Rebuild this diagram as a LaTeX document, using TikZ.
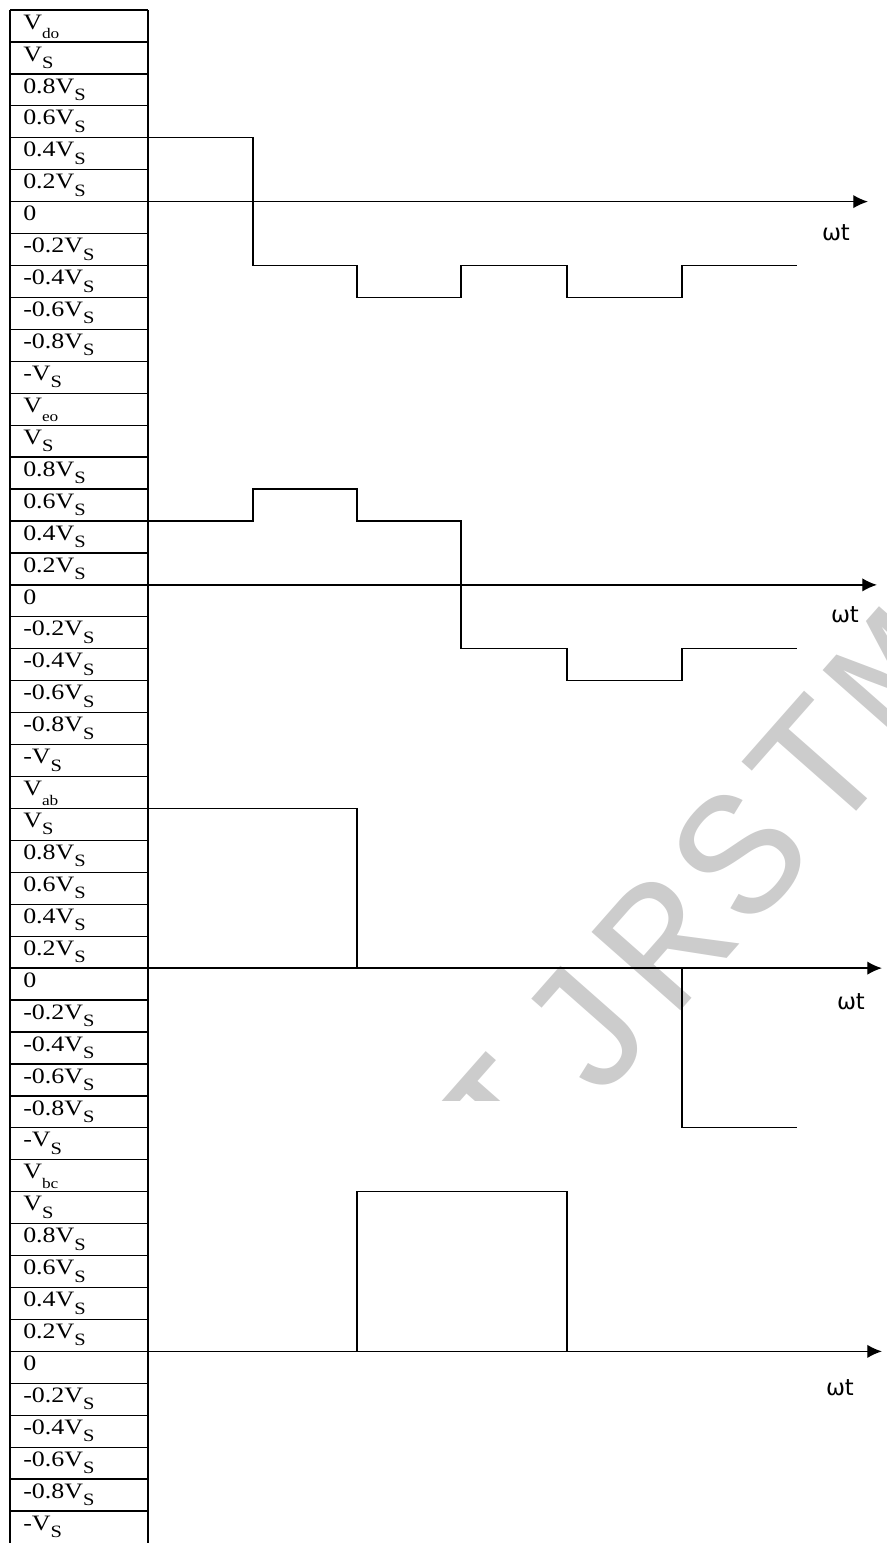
\documentclass[tikz,border=0pt]{standalone}
\usepackage{fontspec}
\setmainfont[FakeStretch=1.18]{Liberation Serif}
\newfontfamily\omegafont{DejaVu Sans}
\newfontfamily\wmfont{Liberation Mono}
\usetikzlibrary{arrows.meta}

\newcommand\vsub[1]{\raisebox{-5.5pt}{\fontsize{13}{13}\selectfont #1}}
\newcommand\vname[1]{V\raisebox{-7pt}{\fontsize{11}{11}\selectfont #1}}

\tikzset{
	cell/.style={anchor=base west, inner sep=0pt, font=\fontsize{16.5}{16.5}\selectfont},
	wave/.style={line width=1pt},
	axis/.style={line width=1pt, -{Latex[length=11pt,width=10pt]}},
	tlabel/.style={inner sep=0pt, font=\omegafont\fontsize{17}{17}\selectfont},
	wmletter/.style={inner sep=0pt, rotate=48.6, text=black!20,
		font=\wmfont\fontsize{135}{135}\selectfont}
}

\begin{document}
\begin{tikzpicture}[x=0.75pt, y=-23.955pt]
	\useasboundingbox (0,-0.3131) rectangle (887,48);

	% watermark
	\begin{scope}
		\clip (0,-0.3131) rectangle (887,34.13);
		\foreach \ch [count=\i from 0] in {I,J,R,S,T,M}
			\node[wmletter] (wm\i) at ({507+77.7*\i},{(1108-88*\i)/31.94}) {\ch};
	\end{scope}

	% table of levels
	\draw[wave] (10,0) -- (10,48) (148,0) -- (148,48);
	\foreach \k in {0,...,47}
		\draw[wave] (10,\k) -- (148,\k);
	\foreach \nm [count=\b from 0] in {do,eo,ab,bc}
		\foreach \txt [count=\r from 0] in {{\vname{\nm}}, V\vsub{S}, 0.8V\vsub{S},
			0.6V\vsub{S}, 0.4V\vsub{S}, 0.2V\vsub{S}, 0, -0.2V\vsub{S},
			-0.4V\vsub{S}, -0.6V\vsub{S}, -0.8V\vsub{S}, -V\vsub{S}}
			\node[cell] (\nm\r) at (23,12*\b+\r+0.6) {\txt};

	% V_do
	\draw[axis] (148,6) -- (868,6);
	\draw[wave] (148,4) -- (253,4) -- (253,8) -- (357,8) -- (357,9) -- (461,9)
		-- (461,8) -- (567,8) -- (567,9) -- (682,9) -- (682,8) -- (797,8);
	\node[tlabel] (t1) at (836,6.97) {ωt};

	% V_eo
	\draw[axis] (148,18) -- (877,18);
	\draw[wave] (148,16) -- (253,16) -- (253,15) -- (357,15) -- (357,16) -- (461,16)
		-- (461,20) -- (567,20) -- (567,21) -- (682,21) -- (682,20) -- (797,20);
	\node[tlabel] (t2) at (845,18.94) {ωt};

	% V_ab
	\draw[axis] (148,30) -- (882,30);
	\draw[wave] (148,25) -- (357,25) -- (357,30);
	\draw[wave] (682,30) -- (682,35) -- (797,35);
	\node[tlabel] (t3) at (851,31.06) {ωt};

	% V_bc
	\draw[axis] (148,42) -- (882,42);
	\draw[wave] (357,42) -- (357,37) -- (567,37) -- (567,42);
	\node[tlabel] (t4) at (840,43.13) {ωt};
\end{tikzpicture}
\end{document}
